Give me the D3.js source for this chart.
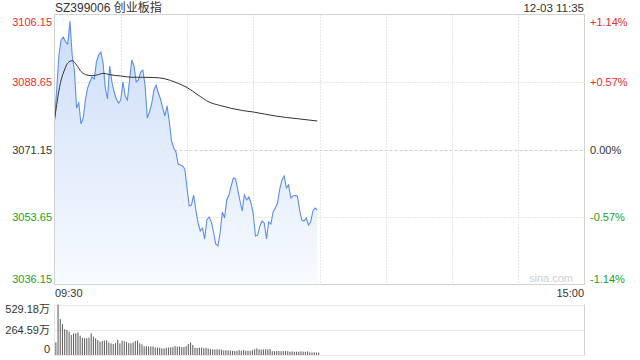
<!DOCTYPE html>
<html>
<head>
<meta charset="utf-8">
<script src="https://cdn.jsdelivr.net/npm/d3@7"></script>
<style>
  body { margin: 0; background: #fff; }
  text { font-family: "Liberation Sans", Arial, "Noto Sans CJK SC", sans-serif; }
</style>
</head>
<body>
<svg id="container" width="640" height="360"></svg>
<script>
const title = "SZ399006 创业板指";
const stamp = "12-03 11:35";
const timeLabels = ["09:30", "15:00"];
const preClose = 3071.15;
const priceTicks = [3036.15, 3053.65, 3071.15, 3088.65, 3106.15];
const volTicks = [0, 264.59, 529.18];

// one price per minute from 09:30
const prices = [
  3078.80, 3086.58, 3095.65, 3099.54, 3100.32, 3099.02, 3098.50, 3104.46, 3095.65, 3091.76,
  3081.91, 3083.21, 3077.76, 3079.32, 3083.98, 3087.09, 3088.65, 3089.95, 3089.43, 3093.84,
  3095.65, 3096.43, 3093.58, 3087.09, 3084.24, 3092.80, 3088.65, 3086.06, 3084.24, 3083.21,
  3083.98, 3088.65, 3085.02, 3083.98, 3089.17, 3094.35, 3092.80, 3088.65, 3089.17, 3091.24,
  3091.76, 3087.87, 3079.32, 3080.87, 3082.95, 3086.58, 3087.87, 3085.80, 3084.24, 3081.91,
  3079.84, 3082.43, 3078.28, 3073.35, 3071.54, 3070.50, 3067.39, 3067.13, 3066.87, 3066.09,
  3061.17, 3056.50, 3056.76, 3059.35, 3055.46, 3052.09, 3050.02, 3050.80, 3047.95, 3052.87,
  3053.65, 3052.35, 3049.76, 3046.65, 3046.13, 3049.50, 3054.95, 3053.39, 3058.06, 3059.35,
  3061.69, 3063.76, 3063.50, 3060.65, 3057.80, 3055.21, 3059.35, 3058.06, 3058.84, 3057.28,
  3054.43, 3048.72, 3048.98, 3051.32, 3052.61, 3052.09, 3047.95, 3052.35, 3051.84, 3054.95,
  3055.98, 3057.28, 3060.91, 3063.24, 3064.28, 3061.17, 3061.95, 3058.58, 3059.09, 3059.22,
  3059.09, 3055.46, 3052.87, 3052.61, 3053.39, 3051.58, 3052.35, 3055.21, 3055.98, 3055.46
];

// average price line, read at these minutes
const avgMinutes = [0, 2, 3, 4, 5, 6, 8, 10, 12, 14, 17, 20, 22, 25, 30, 35, 40, 45, 50, 55,
  60, 65, 70, 75, 80, 85, 90, 95, 100, 105, 110, 115, 119];
const avgPrices = [3078.80, 3086.39, 3089.17, 3090.98, 3092.46, 3093.58, 3094.17, 3093.06,
  3091.37, 3090.59, 3090.28, 3090.59, 3090.91, 3090.54, 3090.21, 3089.87, 3089.87, 3089.82,
  3089.48, 3088.52, 3087.22, 3085.28, 3083.46, 3082.56, 3081.83, 3081.26, 3080.87, 3080.35,
  3079.84, 3079.45, 3079.14, 3078.80, 3078.54];

// volume per minute, 万
const volumes = [
  132, 529, 376, 323, 270, 263, 245, 210, 227, 227, 238, 203, 182, 175, 175, 182, 227, 193, 175, 157,
  139, 146, 150, 153, 132, 122, 115, 125, 160, 122, 150, 143, 136, 125, 122, 132, 146, 153, 122, 111,
  90, 92, 90, 88, 90, 79, 80, 77, 69, 70, 76, 79, 80, 83, 93, 88, 90, 83, 84, 93,
  115, 132, 104, 76, 74, 77, 79, 72, 76, 69, 62, 58, 58, 60, 58, 57, 48, 50, 48, 47,
  42, 41, 44, 51, 45, 51, 44, 45, 44, 51, 60, 69, 58, 56, 58, 60, 58, 62, 41, 40,
  41, 42, 40, 41, 41, 40, 34, 38, 34, 35, 34, 38, 36, 34, 38, 28, 26, 28, 26, 27
];

const red = "#ee2b2b", green = "#1e9e1e", grid = "#cfcfcf";
const colorOf = v => v > preClose ? red : v < preClose ? green : "#333";

const x = d3.scaleLinear().domain([0, 240]).range([54.5, 584.5]);
const y = d3.scaleLinear().domain([priceTicks[0], priceTicks[4]]).range([284.5, 14.5]);
const yv = d3.scaleLinear().domain([0, volTicks[2]]).range([355, 304.5]);

const svg = d3.select("#container");

const defs = svg.append("defs");
const grad = defs.append("linearGradient").attr("id", "fill")
  .attr("gradientUnits", "userSpaceOnUse")
  .attr("x1", 0).attr("x2", 0).attr("y1", 14).attr("y2", 284);
grad.append("stop").attr("offset", 0).attr("stop-color", "#cbdcf8");
grad.append("stop").attr("offset", 1).attr("stop-color", "#f8fbff");

// grid
svg.append("g")
  .selectAll("line")
  .data(d3.range(30, 240, 30))
  .join("line")
  .attr("x1", d => Math.round(x(d)) + 0.5).attr("x2", d => Math.round(x(d)) + 0.5)
  .attr("y1", 14.5).attr("y2", 284.5)
  .attr("stroke", grid).attr("stroke-dasharray", "1,2");

svg.append("g")
  .selectAll("line")
  .data(priceTicks.slice(1, 4))
  .join("line")
  .attr("x1", 54.5).attr("x2", 584.5)
  .attr("y1", d => Math.round(y(d)) + 0.5).attr("y2", d => Math.round(y(d)) + 0.5)
  .attr("stroke", grid)
  .attr("stroke-dasharray", d => d === preClose ? "3,2" : "1,2");

// price area and lines
svg.append("path")
  .datum(prices)
  .attr("fill", "url(#fill)")
  .attr("d", d3.area().x((d, i) => x(i)).y0(284.5).y1(d => y(d)));

svg.append("path")
  .datum(prices)
  .attr("fill", "none")
  .attr("stroke", "#5b8ef0")
  .attr("stroke-width", 1.1)
  .attr("d", d3.line().x((d, i) => x(i)).y(d => y(d)));

svg.append("path")
  .datum(avgMinutes.map((m, i) => [m, avgPrices[i]]))
  .attr("fill", "none")
  .attr("stroke", "#333")
  .attr("stroke-width", 1)
  .attr("d", d3.line().curve(d3.curveMonotoneX).x(d => x(d[0])).y(d => y(d[1])));

// frame
svg.append("rect")
  .attr("x", 54.5).attr("y", 14.5).attr("width", 530).attr("height", 270)
  .attr("fill", "none").attr("stroke", "#d2d2d2");

// left price axis
svg.append("g")
  .attr("transform", "translate(52,0)")
  .call(d3.axisLeft(y).tickValues(priceTicks).tickSize(0).tickPadding(0).tickFormat(d3.format(".2f")))
  .call(g => g.select(".domain").remove())
  .call(g => g.selectAll("text")
    .attr("font-size", 11)
    .attr("font-family", null)
    .attr("fill", d => colorOf(d))
    .attr("dy", d => d === priceTicks[4] ? "1.0em" : d === priceTicks[0] ? "-0.2em" : "0.32em"));

// right percent axis
const pct = d3.format("+.2%");
svg.append("g")
  .attr("transform", "translate(590,0)")
  .call(d3.axisRight(y).tickValues(priceTicks).tickSize(0).tickPadding(0)
    .tickFormat(d => d === preClose ? "0.00%" : pct((d - preClose) / preClose).replace("−", "-")))
  .call(g => g.select(".domain").remove())
  .call(g => g.selectAll("text")
    .attr("font-size", 11)
    .attr("font-family", null)
    .attr("fill", d => colorOf(d))
    .attr("dy", d => d === priceTicks[4] ? "1.0em" : d === priceTicks[0] ? "-0.2em" : "0.32em"));

// header
svg.append("text").attr("x", 55).attr("y", 12)
  .attr("font-size", 12).attr("fill", "#333").text(title);
svg.append("text").attr("x", 584).attr("y", 12).attr("text-anchor", "end")
  .attr("font-size", 11.5).attr("fill", "#333").text(stamp);

// time labels
svg.append("text").attr("x", 55).attr("y", 297)
  .attr("font-size", 11).attr("fill", "#333").text(timeLabels[0]);
svg.append("text").attr("x", 584).attr("y", 297).attr("text-anchor", "end")
  .attr("font-size", 11).attr("fill", "#333").text(timeLabels[1]);

// watermark
svg.append("text").attr("x", 573).attr("y", 282).attr("text-anchor", "end")
  .attr("font-size", 11).attr("fill", "#cfcfcf").text("sina.com");

// volume panel
svg.append("g")
  .selectAll("line")
  .data(volTicks)
  .join("line")
  .attr("x1", 54.5).attr("x2", 584.5)
  .attr("y1", d => Math.round(yv(d)) + 0.5).attr("y2", d => Math.round(yv(d)) + 0.5)
  .attr("stroke", grid).attr("stroke-dasharray", "1,1");

svg.append("line")
  .attr("x1", 584.5).attr("x2", 584.5).attr("y1", 304.5).attr("y2", 355.5)
  .attr("stroke", "#d2d2d2");
svg.append("line")
  .attr("x1", 54.5).attr("x2", 54.5).attr("y1", 304.5).attr("y2", 355.5)
  .attr("stroke", "#e4e4e4");

svg.append("g")
  .attr("fill", "#666")
  .selectAll("rect")
  .data(volumes)
  .join("rect")
  .attr("x", (d, i) => x(i) + 0.8)
  .attr("width", 1.1)
  .attr("y", d => yv(d))
  .attr("height", d => yv(0) - yv(d));

svg.append("g")
  .attr("transform", "translate(50,0)")
  .call(d3.axisLeft(yv).tickValues(volTicks).tickSize(0).tickPadding(0)
    .tickFormat(d => d === 0 ? "0" : d3.format(".2f")(d) + "万"))
  .call(g => g.select(".domain").remove())
  .call(g => g.selectAll("text")
    .attr("font-size", 11)
    .attr("font-family", null)
    .attr("fill", "#333")
    .attr("dy", d => d === 0 ? "-0.25em" : d === volTicks[2] ? "0.75em" : "0.32em"));
</script>
</body>
</html>
